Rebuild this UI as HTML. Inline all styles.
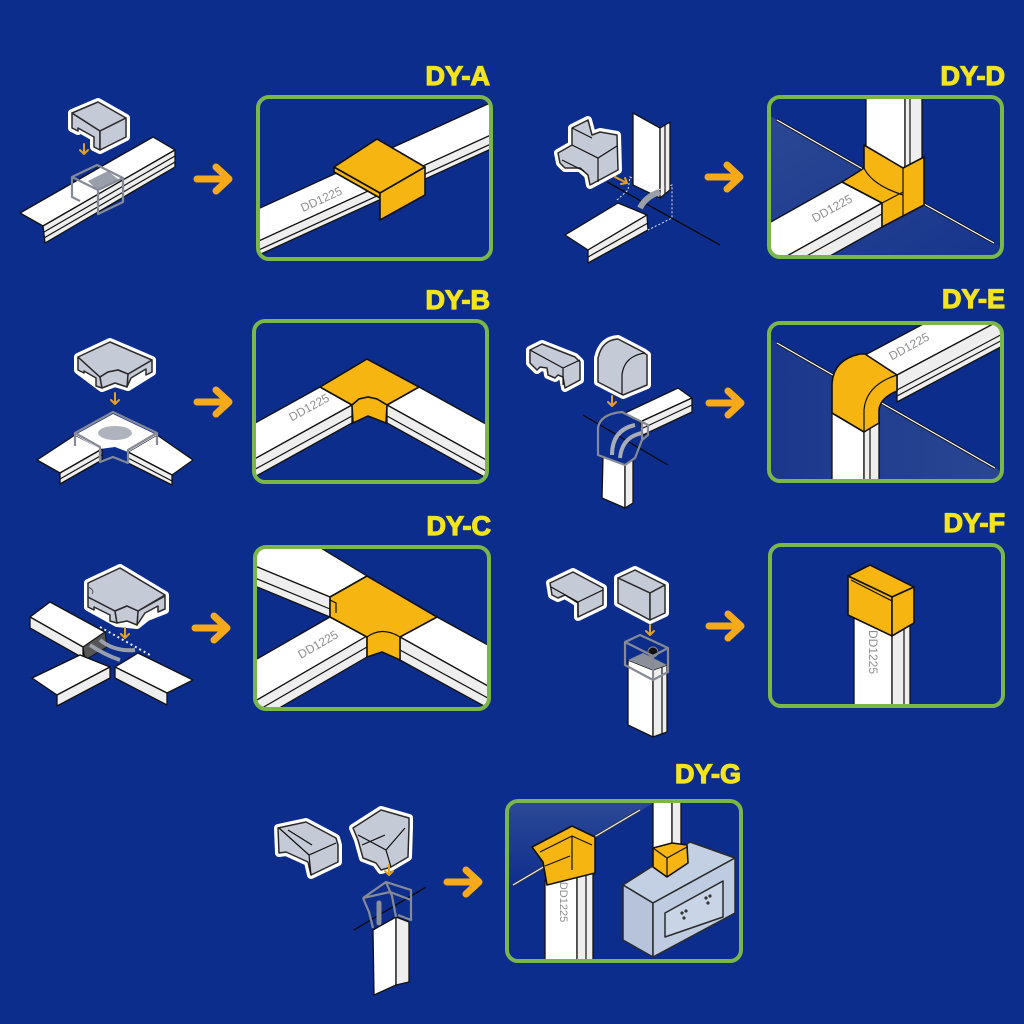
<!DOCTYPE html>
<html><head><meta charset="utf-8">
<style>
html,body{margin:0;padding:0;background:#0c2d8c;}
svg{display:block}
.lbl{font-family:"Liberation Sans",Arial,sans-serif;font-weight:bold;font-size:27px;fill:#f3e41d;stroke:#f3e41d;stroke-width:1.2;text-anchor:end}
.dd{font-family:"Liberation Sans",Arial,sans-serif;font-size:12px;fill:#8f8f8f;text-anchor:middle}
.o{fill:#f6b511;stroke:#111;stroke-width:1.6;stroke-linejoin:round}
.w{fill:#fff;stroke:#111;stroke-width:1.3;stroke-linejoin:round}
.ws{fill:#eeeeee;stroke:#111;stroke-width:1.3;stroke-linejoin:round}
.g{fill:#c5cad7;stroke:#2a2a2a;stroke-width:1.5;stroke-linejoin:round}
.h{fill:#fff;stroke:#fff;stroke-width:8;stroke-linejoin:round}
.ln{stroke:#111;stroke-width:1.2;fill:none}
.lg{stroke:#555;stroke-width:1;fill:none}
.ds{fill:none;stroke:#858a96;stroke-width:2.2;stroke-linejoin:round}
.dw{fill:none;stroke:#e8e8e8;stroke-width:1;stroke-dasharray:2 2}
.pan{fill:none;stroke:#7ab648;stroke-width:4}
.arr{fill:none;stroke:#f5a91b;stroke-width:7;stroke-linecap:round;stroke-linejoin:round}
.sa{fill:none;stroke:#e4a01f;stroke-width:2;stroke-linecap:round;stroke-linejoin:round}
</style></head><body>
<svg width="1024" height="1024" viewBox="0 0 1024 1024" xmlns="http://www.w3.org/2000/svg">
<defs>
<clipPath id="cA"><rect x="258" y="97" width="233" height="162" rx="11"/></clipPath>
<clipPath id="cD"><rect x="769" y="97" width="233" height="160" rx="11"/></clipPath>
<clipPath id="cB"><rect x="254" y="321" width="233" height="161" rx="11"/></clipPath>
<clipPath id="cE"><rect x="769" y="323" width="233" height="158" rx="11"/></clipPath>
<clipPath id="cC"><rect x="255" y="547" width="234" height="162" rx="11"/></clipPath>
<clipPath id="cF"><rect x="770" y="545" width="233" height="161" rx="11"/></clipPath>
<clipPath id="cG"><rect x="507" y="801" width="234" height="160" rx="11"/></clipPath>
<linearGradient id="fl" x1="0" y1="0" x2="1" y2="1">
<stop offset="0" stop-color="#2b4894"/><stop offset="1" stop-color="#16348c"/></linearGradient>
<linearGradient id="fl2" x1="0" y1="0" x2="1" y2="0">
<stop offset="0" stop-color="#1a378c"/><stop offset="1" stop-color="#2a4793"/></linearGradient>
<linearGradient id="fl3" x1="0" y1="0" x2="0" y2="1">
<stop offset="0" stop-color="#2d4a96"/><stop offset="1" stop-color="#0c2d8c"/></linearGradient>
</defs>
<rect width="1024" height="1024" fill="#0c2d8c"/>

<!-- Labels -->
<text class="lbl" x="490" y="85">DY-A</text>
<text class="lbl" x="1005" y="85">DY-D</text>
<text class="lbl" x="490" y="309">DY-B</text>
<text class="lbl" x="1005" y="308">DY-E</text>
<text class="lbl" x="491" y="535">DY-C</text>
<text class="lbl" x="1005" y="532">DY-F</text>
<text class="lbl" x="741" y="783">DY-G</text>

<!-- Big arrows -->
<path class="arr" d="M197,179 L228,179 M216,167 L229,179 L216,191"/>
<path class="arr" d="M708,177 L739,177 M727,165 L740,177 L727,189"/>
<path class="arr" d="M197,402 L228,402 M216,390 L229,402 L216,414"/>
<path class="arr" d="M709,403 L740,403 M728,391 L741,403 L728,415"/>
<path class="arr" d="M195,628 L226,628 M214,616 L227,628 L214,640"/>
<path class="arr" d="M709,626 L740,626 M728,614 L741,626 L728,638"/>
<path class="arr" d="M447,882 L478,882 M466,870 L479,882 L466,894"/>

<!-- ===== PANEL A ===== -->
<g clip-path="url(#cA)">
<polygon class="w" points="250,212.6 500,98.4 500,130.8 250,245"/>
<polygon class="ws" points="250,245 500,130.8 500,144.8 250,259"/>
<line class="ln" x1="250" y1="254" x2="500" y2="139.8"/>
<text class="dd" transform="translate(323,203) rotate(-24.5)">DD1225</text>
<polygon class="o" points="334,167 380,193 380,198 334,172"/>
<polygon class="o" points="334,167 377,139 425,167 380,193"/>
<polygon class="o" points="380,193 425,167 425,195 380,220"/>
</g>
<rect class="pan" x="258" y="97" width="233" height="162" rx="11"/>

<!-- ===== PANEL D ===== -->
<g clip-path="url(#cD)">
<polygon points="767,114 924,204 1006,250 1006,262 767,262" fill="url(#fl)"/>
<line x1="777" y1="120" x2="924" y2="204" stroke="#111" stroke-width="3"/>
<line x1="924" y1="204" x2="994" y2="243" stroke="#111" stroke-width="3"/>
<line x1="777" y1="120" x2="924" y2="204" stroke="#fff" stroke-width="1.2"/>
<line x1="924" y1="204" x2="994" y2="243" stroke="#fff" stroke-width="1.2"/>
<polygon class="w" points="866,90 905,90 905,170 866,148"/>
<polygon class="ws" points="905,90 922,90 922,160 905,170"/>
<line class="ln" x1="910" y1="90" x2="910" y2="167"/>
<polygon class="w" points="842,182 882,203 760,271 760,228"/>
<polygon class="ws" points="882,203 882,227 760,295 760,271"/>
<line class="ln" x1="882" y1="214" x2="760" y2="282"/>
<text class="dd" transform="translate(834,212) rotate(-29)">DD1225</text>
<polygon class="o" points="864,145 903,168 924,157 924,205 882,227 882,203 842,182 858,172 864,168"/>
<path class="ln" d="M903,168 L903,216 M864,168 Q872,185 903,195 M882,203 L903,192 M842,182 L882,203"/>
</g>
<rect class="pan" x="769" y="97" width="233" height="160" rx="11"/>

<!-- ===== PANEL B ===== -->
<g clip-path="url(#cB)">
<polygon class="w" points="250,425.8 320,387 352,405 250,461.5"/>
<polygon class="ws" points="250,461.5 352,405 352,423 250,479.5"/>
<line class="ln" x1="250" y1="472" x2="352" y2="416"/>
<polygon class="w" points="419,387 495,429.1 495,464.8 387,405"/>
<polygon class="ws" points="387,405 495,464.8 495,482.8 387,423"/>
<line class="ln" x1="387" y1="416" x2="495" y2="476"/>
<text class="dd" transform="translate(311,411) rotate(-29)">DD1225</text>
<polygon class="o" points="320,387 367,359 419,387 387,405 377,399 368,397 359,399 352,405"/>
<polygon class="o" points="352,405 359,399 368,397 377,399 387,405 386,423 368,416 353,423"/>
</g>
<rect class="pan" x="254" y="321" width="233" height="161" rx="11"/>

<!-- ===== PANEL E ===== -->
<g clip-path="url(#cE)">
<polygon points="767,337 1004,473 1006,485 767,485" fill="url(#fl2)"/>
<line x1="777" y1="343" x2="995" y2="468" stroke="#111" stroke-width="3"/>
<line x1="777" y1="343" x2="995" y2="468" stroke="#fff" stroke-width="1.2"/>
<polygon class="w" points="865,355 1010,278 1010,315 897,375"/>
<polygon class="ws" points="897,375 1010,315 1010,342 897,402"/>
<line class="ln" x1="897" y1="390" x2="1010" y2="330"/>
<line class="ln" x1="897" y1="396" x2="1010" y2="336"/>
<text class="dd" transform="translate(911,350) rotate(-29)">DD1225</text>
<polygon class="w" points="832,413 864,432 864,490 832,490"/>
<polygon class="ws" points="864,432 879,423 879,490 864,490"/>
<line class="ln" x1="870" y1="429" x2="870" y2="490"/>
<path class="o" d="M832,413 L832,386 Q832,360 860,354 L865,354 L897,375 L897,391 Q880,398 879,410 L879,423 L864,432 Z"/>
<path class="ln" d="M897,375 Q866,385 864,410 L864,432"/>
</g>
<rect class="pan" x="769" y="323" width="233" height="158" rx="11"/>

<!-- ===== PANEL C ===== -->
<g clip-path="url(#cC)">
<polygon class="w" points="250,505 367,576 330,597 250,564"/>
<polygon class="ws" points="250,564 330,597 330,617 250,584"/>
<line class="ln" x1="250" y1="576" x2="330" y2="609"/>
<polygon class="w" points="437,617 495,649 495,690 400,637"/>
<polygon class="ws" points="400,637 495,690 495,712 400,660"/>
<line class="ln" x1="400" y1="650" x2="495" y2="702"/>
<polygon class="w" points="330,617 367,636 250,704 250,663"/>
<polygon class="ws" points="367,636 367,657 250,725 250,704"/>
<line class="ln" x1="367" y1="647" x2="250" y2="715"/>
<text class="dd" transform="translate(320,648) rotate(-30)">DD1225</text>
<polygon class="o" points="330,597 367,576 437,617 400,637 400,660 382,652 367,657 367,637 330,617"/>
<path class="ln" d="M367,637 Q382,626 400,637 M330,617 L367,637 M330,600 L336,603 L336,613"/>
</g>
<rect class="pan" x="255" y="547" width="234" height="162" rx="11"/>

<!-- ===== PANEL F ===== -->
<g clip-path="url(#cF)">
<polygon class="w" points="854,610 892,630 892,712 854,712"/>
<polygon class="ws" points="892,630 910,620 910,712 892,712"/>
<line class="ln" x1="904" y1="624" x2="904" y2="712"/>
<text class="dd" transform="translate(869,652) rotate(90)">DD1225</text>
<polygon class="o" points="848,576 870,565 914,587 892,597"/>
<polygon class="o" points="848,576 892,597 892,636 848,615"/>
<polygon class="o" points="892,597 914,587 914,623 892,636"/>
<line class="ln" x1="851" y1="580" x2="892" y2="601"/>
</g>
<rect class="pan" x="770" y="545" width="233" height="161" rx="11"/>

<!-- ===== PANEL G ===== -->
<g clip-path="url(#cG)">
<polygon points="505,799 660,799 513,887 505,891" fill="url(#fl3)"/>
<line x1="513" y1="885" x2="640" y2="810" stroke="#333" stroke-width="3"/>
<line x1="513" y1="885" x2="640" y2="810" stroke="#eee" stroke-width="1.2"/>
<polygon class="w" points="545,880 577,868 577,965 545,965"/>
<polygon class="ws" points="577,868 593,874 593,965 577,965"/>
<line class="ln" x1="586" y1="871" x2="586" y2="965"/>
<text class="dd" style="font-size:11px" transform="translate(560,902) rotate(90)">DD1225</text>
<polygon class="o" points="532,847 572,826 595,837 595,873 547,885 543,862"/>
<path class="ln" d="M540,852 L572,836 L592,845 M572,836 L572,870 M545,866 L570,856"/>
<polygon class="w" points="653,795 672,795 672,850 653,850"/>
<polygon class="ws" points="672,795 681,795 681,848 672,850"/>
<polygon class="g" style="fill:#c3cfe2" points="623,885 690,842 735,858 653,903"/>
<polygon class="g" style="fill:#b6c3da" points="623,885 653,903 653,957 623,940"/>
<polygon class="g" style="fill:#bfcbe0" points="653,903 735,858 735,913 653,957"/>
<polygon class="g" style="fill:#c9d4e6" points="665,913 723,881 723,917 665,937"/>
<circle cx="682" cy="913" r="1.6" fill="#333"/><circle cx="686" cy="911" r="1.6" fill="#333"/><circle cx="684" cy="918" r="1.6" fill="#333"/>
<circle cx="706" cy="898" r="1.6" fill="#333"/><circle cx="710" cy="896" r="1.6" fill="#333"/><circle cx="708" cy="903" r="1.6" fill="#333"/>
<polygon class="o" points="653,848 672,843 687,845 688,863 667,877 653,867"/>
<path class="ln" d="M653,848 L667,858 L687,847 M667,858 L667,877"/>
</g>
<rect class="pan" x="507" y="801" width="234" height="160" rx="11"/>

<!-- ===== LEFT A ===== -->
<polygon class="w" points="20,213 153,137 175,150 43,226"/>
<polygon class="ws" points="43,226 175,150 175,167 45,243"/>
<line class="ln" x1="44" y1="232" x2="175" y2="156"/>
<line class="ln" x1="44" y1="238" x2="175" y2="162"/>
<polygon points="88,181 108,171 119,180 98,191" fill="#9aa0ab"/>
<path class="ds" d="M72,177 L97,165 L123,178 L98,190 Z M98,190 L98,214 L123,202 L123,178 M72,177 L72,197 L80,201"/>
<g>
<polygon class="h" points="72,113 98,102 126,118 126,137 100,150 94,147 94,137 78,128 78,131 72,128"/>
<polygon class="g" points="72,113 100,131 100,150 94,147 94,137 78,128 78,131 72,128"/>
<polygon class="g" points="72,113 98,102 126,118 100,131"/>
<polygon class="g" points="100,131 126,118 126,137 100,150"/>
</g>
<path class="sa" d="M84,144 L84,154 M80,150 L84,154 L88,150"/>

<!-- ===== LEFT B ===== -->
<polygon class="w" points="37,460 75,435 102,449 60,473"/>
<polygon class="ws" points="60,473 102,449 102,460 60,484"/>
<line class="ln" x1="60" y1="479" x2="102" y2="455"/>
<polygon class="w" points="128,452 157,435 193,460 172,475"/>
<polygon class="ws" points="128,452 172,475 172,485 128,463"/>
<line class="ln" x1="128" y1="458" x2="172" y2="481"/>
<polygon points="75,435 113,414 157,435 128,452 115,447 100,449" fill="#fff"/>
<ellipse cx="115" cy="433" rx="17" ry="7" fill="#aeb3bd"/>
<path class="ds" d="M75,446 L75,433 L113,412 L157,433 L157,445 M75,433 L100,447 L100,462 L113,457 L128,463 L128,450 L157,433"/>
<g>
<polygon class="h" points="78,357 110,342 152,360 152,372 128,387 115,383 102,388 78,370"/>
<polygon class="g" points="78,357 100,377 102,388 96,386 96,378 84,371 84,373 78,370"/>
<polygon class="g" points="128,374 152,360 152,372 146,375 146,369 131,378 127,387"/>
<polygon class="g" points="78,357 110,342 152,360 128,374 118,370 108,372 100,377"/>
<polygon class="g" points="100,377 108,372 118,370 128,374 127,387 115,383 102,388"/>
</g>
<path class="sa" d="M115,393 L115,404 M111,400 L115,404 L119,400"/>

<!-- ===== LEFT C ===== -->
<polygon class="w" points="30,617 50,602 105,632 83,647"/>
<polygon class="ws" points="30,617 83,647 83,658 30,628"/>
<polygon points="83,647 105,632 107,647 85,660" fill="#555" stroke="#111" stroke-width="1"/>
<polygon class="w" points="32,678 80,655 110,667 57,695"/>
<polygon class="ws" points="57,695 110,667 110,678 57,706"/>
<polygon class="w" points="115,667 138,653 193,680 167,693"/>
<polygon class="ws" points="115,667 167,693 167,705 115,678"/>
<path d="M90,645 Q105,655 120,660 M100,640 Q115,652 135,650" stroke="#9aa0ab" stroke-width="4" fill="none"/>
<line x1="100" y1="627" x2="150" y2="655" stroke="#eee" stroke-width="2" stroke-dasharray="2 3"/>
<g>
<polygon class="h" points="88,583 120,568 165,595 165,610 147,617 137,625 117,623 88,607"/>
<polygon class="g" points="88,597 115,611 117,623 110,621 110,615 94,607 94,610 88,607"/>
<polygon class="g" points="138,611 165,596 165,609 158,612 158,606 145,613 137,625"/>
<polygon class="g" points="88,583 120,568 165,595 138,611 127,606 115,611 88,597"/>
<polygon class="g" points="115,611 127,606 138,611 137,625 127,621 117,623"/>
<path class="lg" d="M88,587 Q95,590 92,594"/>
</g>
<path class="sa" d="M125,628 L125,638 M121,634 L125,638 L129,634"/>

<!-- ===== LEFT D ===== -->
<line x1="607" y1="182" x2="720" y2="245" stroke="#0a0a0a" stroke-width="1.3"/>
<polygon class="w" points="633,113 660,128 660,198 633,185"/>
<polygon class="ws" points="660,128 670,122 670,190 660,198"/>
<line class="ln" x1="665" y1="125" x2="665" y2="194"/>
<polygon class="w" points="565,235 618,203 647,215 588,250"/>
<polygon class="ws" points="588,250 647,215 648,230 588,263"/>
<line class="ln" x1="588" y1="257" x2="648" y2="223"/>
<path d="M640,208 Q646,196 660,192" stroke="#9a9ea8" stroke-width="6" fill="none"/>
<path class="dw" d="M617,200 L628,190 L630,177 L658,190 L672,185 L672,218 L648,230"/>
<g>
<polygon class="h" points="558,153 572,145 572,128 588,120 592,135 600,132 617,135 618,170 590,185 588,175 580,168 565,168 560,163"/>
<polygon class="g" points="558,153 572,145 572,128 588,120 592,135 600,132 617,135 618,170 590,185 588,175 580,168 565,168 560,163"/>
<path class="ln" d="M572,145 L598,158 L617,146 M598,158 L598,182 M572,128 L592,138 M562,160 L584,171"/>
</g>
<path class="sa" d="M615,177 L627,183 M621,184 L627,183 L625,178"/>

<!-- ===== LEFT E ===== -->
<line x1="583" y1="415" x2="668" y2="465" stroke="#0a0a0a" stroke-width="1.3"/>
<polygon class="w" points="603,457 625,465 625,508 602,498"/>
<polygon class="ws" points="625,465 633,460 633,503 625,508"/>
<polygon class="w" points="625,413 678,388 692,398 640,422"/>
<polygon class="ws" points="640,422 692,398 692,412 643,435"/>
<line class="ln" x1="641" y1="429" x2="692" y2="405"/>
<path d="M612,455 Q612,430 635,425 M620,458 Q622,437 642,433" stroke="#a7acb6" stroke-width="4" fill="none"/>
<path class="ds" d="M598,455 L598,428 Q600,414 622,412 L648,425 L648,435 L642,440 L635,458 L625,465 Z M622,412 L642,422 L642,440"/>
<g>
<polygon class="h" points="530,350 542,344 575,357 580,362 580,380 565,388 563,377 558,375 555,378 548,375 547,368 540,367 537,370 530,363"/>
<polygon class="g" points="530,350 542,344 575,357 580,362 580,380 565,388 563,377 558,375 555,378 548,375 547,368 540,367 537,370 530,363"/>
<path class="ln" d="M530,350 L563,368 L580,360 M563,368 L563,385"/>
<path class="h" d="M598,382 L598,358 Q602,340 618,339 L643,352 L647,355 L647,385 L623,395 Z"/>
<path class="g" d="M598,382 L598,358 Q602,340 618,339 L643,352 L647,355 L647,385 L623,395 Z"/>
<path class="ln" d="M622,395 L622,375 Q624,356 645,353"/>
</g>
<path class="sa" d="M612,396 L612,406 M608,402 L612,406 L616,402"/>

<!-- ===== LEFT F ===== -->
<polygon class="w" points="628,660 653,670 653,737 628,725"/>
<polygon class="ws" points="653,670 667,665 667,732 653,737"/>
<line class="ln" x1="662" y1="667" x2="662" y2="734"/>
<polygon points="628,660 643,653 667,665 653,670" fill="#8a8f9a"/>
<circle cx="653" cy="652" r="5" fill="#111" stroke="#888" stroke-width="1"/>
<path class="ds" d="M625,642 L640,635 L668,648 L653,656 Z M625,642 L625,665 L653,680 L668,672 L668,648 M653,656 L653,680"/>
<g>
<polygon class="h" points="550,583 573,572 603,588 603,605 578,617 578,603 570,598 565,595 558,598 552,595"/>
<polygon class="g" points="550,583 573,572 603,588 603,605 578,617 578,603 570,598 565,595 558,598 552,595"/>
<path class="ln" d="M551,587 L578,602 L603,590 M578,602 L578,617"/>
<polygon class="h" points="618,578 635,570 665,585 665,613 650,620 618,603"/>
<polygon class="g" points="618,578 635,570 665,585 650,593"/>
<polygon class="g" points="618,578 650,593 650,620 618,603"/>
<polygon class="g" points="650,593 665,585 665,613 650,620"/>
</g>
<path class="sa" d="M650,625 L650,635 M646,631 L650,635 L654,631"/>

<!-- ===== LEFT G ===== -->
<line x1="354" y1="930" x2="426" y2="887" stroke="#0a0a0a" stroke-width="1.3"/>
<polygon class="w" points="373,930 396,917 396,985 374,995"/>
<polygon class="ws" points="396,917 409,922 409,982 396,985"/>
<line x1="379" y1="903" x2="379" y2="923" stroke="#8a8f9a" stroke-width="5" stroke-linecap="round"/>
<path class="ds" d="M363,898 L386,882 L411,890 L411,920 L398,915 M363,898 L369,912 L373,928 M386,882 L392,896 L396,917 M363,898 L390,892 L411,900"/>
<g>
<polygon class="h" points="278,828 306,822 336,838 338,845 338,862 311,875 308,862 286,852 279,853"/>
<polygon class="g" points="278,828 306,822 336,838 338,845 338,862 311,875 308,862 286,852 279,853"/>
<path class="ln" d="M279,828 L309,855 L336,843 M309,855 L311,875 M288,830 L312,845"/>
<polygon class="h" points="353,828 381,810 409,818 409,827 408,857 391,867 381,870 376,863 363,858 358,840"/>
<polygon class="g" points="353,828 381,810 409,818 409,827 408,857 391,867 381,870 376,863 363,858 358,840"/>
<path class="ln" d="M358,835 L386,850 L405,828 M386,850 L391,867 M362,845 L385,835"/>
</g>
<path class="sa" d="M389,865 L389,875 M385,871 L389,875 L393,871"/>

</svg>
</body></html>
